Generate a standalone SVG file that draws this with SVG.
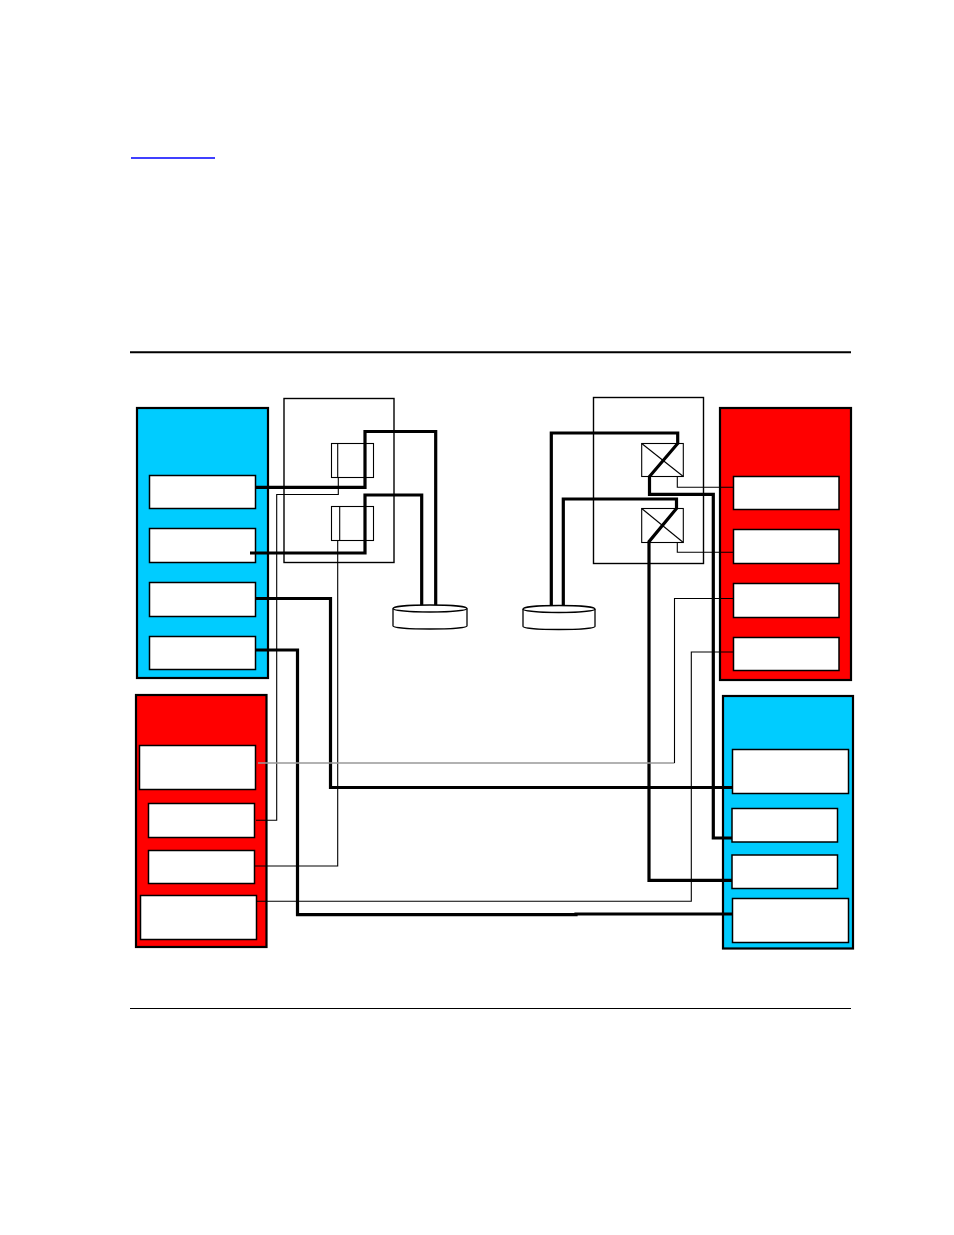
<svg xmlns="http://www.w3.org/2000/svg" width="954" height="1235" viewBox="0 0 954 1235">
<style>
.blue{fill:#00ccff;stroke:#000;stroke-width:2.2}
.red{fill:#ff0000;stroke:#000;stroke-width:2.2}
.card{fill:#fff;stroke:#000;stroke-width:1.5}
.encl{fill:none;stroke:#000;stroke-width:1.4}
.sw{fill:#fff;stroke:#000;stroke-width:1.1}
.thick{fill:none;stroke:#000;stroke-width:3.2}
.thin{fill:none;stroke:#000;stroke-width:1.1}
.gray{fill:none;stroke:#999;stroke-width:1.3}
.disk{fill:#fff;stroke:#000;stroke-width:1.3}
</style>
<rect width="954" height="1235" fill="#fff"/>
<line x1="131" y1="158" x2="215" y2="158" stroke="#0000ff" stroke-width="1.5"/>
<line x1="130" y1="352.3" x2="851" y2="352.3" stroke="#000" stroke-width="2"/>
<line x1="130" y1="1008.5" x2="851" y2="1008.5" stroke="#000" stroke-width="1"/>

<g id="left-blue">
<rect class="blue" x="137" y="408" width="131" height="270"/>
<rect class="card" x="149.5" y="475.5" width="106" height="33"/>
<rect class="card" x="149.5" y="528.5" width="106" height="34"/>
<rect class="card" x="149.5" y="582.5" width="106" height="34"/>
<rect class="card" x="149.5" y="636.5" width="106" height="33"/>
</g>

<g id="right-red">
<rect class="red" x="720" y="408" width="131" height="272"/>
<rect class="card" x="733.5" y="476.5" width="105.5" height="33"/>
<rect class="card" x="733.5" y="529.5" width="105.5" height="34"/>
<rect class="card" x="733.5" y="583.5" width="105.5" height="34"/>
<rect class="card" x="733.5" y="637.5" width="105.5" height="33"/>
</g>

<g id="left-red">
<rect class="red" x="136" y="695" width="130.5" height="252"/>
<rect class="card" x="139.5" y="745.5" width="116" height="44"/>
<rect class="card" x="148.5" y="803.5" width="106" height="34"/>
<rect class="card" x="148.5" y="850.5" width="106" height="33"/>
<rect class="card" x="140.5" y="895.5" width="116" height="44"/>
</g>

<g id="right-blue">
<rect class="blue" x="723" y="696" width="130" height="252.5"/>
<rect class="card" x="732.5" y="749.5" width="116" height="44"/>
<rect class="card" x="732" y="808.5" width="105.5" height="33.5"/>
<rect class="card" x="732" y="855" width="105.5" height="33.5"/>
<rect class="card" x="732.5" y="898.5" width="116" height="44"/>
</g>

<g id="left-enclosure">
<rect class="encl" x="284" y="398.5" width="110" height="164"/>
</g>
<g id="left-switch-1">
<rect class="sw" x="331.5" y="443.5" width="42" height="34"/>
<line class="thin" x1="337.7" y1="443.5" x2="337.7" y2="477.5"/>
</g>
<g id="left-switch-2">
<rect class="sw" x="331.5" y="506.5" width="42" height="34"/>
<line class="thin" x1="339.7" y1="506.5" x2="339.7" y2="540.5"/>
</g>

<g id="right-enclosure">
<rect class="encl" x="593.5" y="397.5" width="110" height="166"/>
</g>
<g id="right-switch-1">
<rect class="sw" x="641.7" y="443.5" width="41.6" height="33"/>
<line class="thin" x1="641.7" y1="443.5" x2="683.3" y2="476.5"/>
</g>
<g id="right-switch-2">
<rect class="sw" x="641.7" y="508.5" width="41.6" height="34"/>
<line class="thin" x1="641.7" y1="508.5" x2="683.3" y2="542.5"/>
</g>

<g id="left-disk">
<path class="disk" d="M393,608.5 V626 A37,3 0 0 0 467,626 V608.5"/>
<ellipse class="disk" cx="430" cy="608.5" rx="37" ry="3.5"/>
</g>
<g id="right-disk">
<path class="disk" d="M523,609 V626.5 A36,3 0 0 0 595,626.5 V609"/>
<ellipse class="disk" cx="559" cy="609" rx="36" ry="3.5"/>
</g>

<g id="connectors">
<path class="thick" d="M256,487.3 H365 V431.5 H435.7 V605"/>
<path class="thick" d="M250,553 H365 V495 H421.7 V605"/>
<path class="thick" d="M256,598.5 H330.5 V787.5 H732"/>
<path class="thick" d="M256,650 H297.5 V914.7 H576 V914 H732"/>
<path class="thin" d="M338.3,477.5 V494.5 H276.7 V820.3 H256"/>
<path class="thin" d="M337.7,540.5 V866 H255"/>
<path class="thick" d="M551.3,605 V433 H677.7 V443.5 L649.5,476.5 V494.3 H713.3 V838 H732"/>
<path class="thick" d="M563.3,605 V499 H676.5 V508.5 L649,541.7 V880.3 H732"/>
<path class="thin" d="M677.3,476.5 V487.3 H733.5"/>
<path class="thin" d="M677.3,542.5 V552.3 H733.5"/>
<path class="gray" d="M258,763 H674.5"/>
<path class="thin" d="M674.5,763 V598.5 H733.5"/>
<path class="thin" d="M257,901.3 H691.3 V652 H733.5"/>
</g>
</svg>
